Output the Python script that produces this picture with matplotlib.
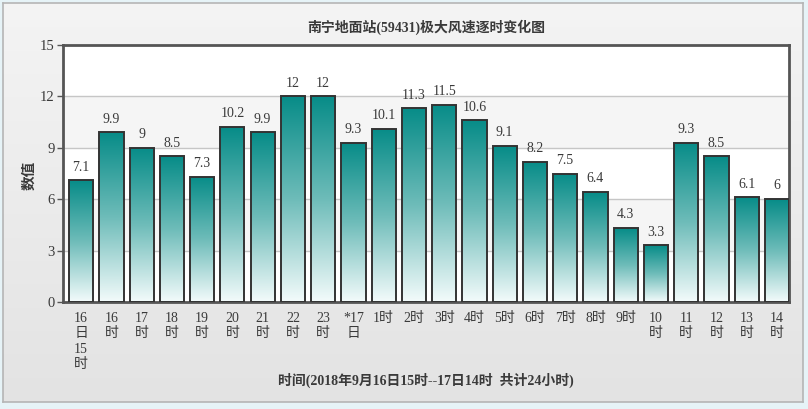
import numpy as np
import matplotlib
matplotlib.use('Agg')
import matplotlib.pyplot as plt
from matplotlib.colors import LinearSegmentedColormap

# data
hours = ['16\n日\n15\n时', '16\n时', '17\n时', '18\n时', '19\n时', '20\n时', '21\n时',
         '22\n时', '23\n时', '*17\n日', '1时', '2时', '3时', '4时', '5时', '6时',
         '7时', '8时', '9时', '10\n时', '11\n时', '12\n时', '13\n时', '14\n时']
wind = [7.1, 9.9, 9, 8.5, 7.3, 10.2, 9.9, 12, 12, 9.3, 10.1, 11.3, 11.5, 10.6,
        9.1, 8.2, 7.5, 6.4, 4.3, 3.3, 9.3, 8.5, 6.1, 6]
y_ticks = [0, 3, 6, 9, 12, 15]

title = '南宁地面站(59431)极大风速逐时变化图'
xlabel = '时间(2018年9月16日15时--17日14时  共计24小时)'
ylabel = '数值'

fonts = ['Liberation Serif', 'Noto Sans CJK SC', 'DejaVu Sans']
plt.rcParams['font.family'] = fonts
txt = '#3a3a3a'

fig = plt.figure(figsize=(8.08, 4.09), dpi=100)
fig.patch.set_facecolor('#e6f3f7')

# grey gradient panel behind the chart
bg = fig.add_axes([3 / 808, 7 / 409, 800 / 808, 399 / 409], zorder=-1)
panel = np.linspace(0, 1, 256).reshape(-1, 1)
bg.imshow(panel, aspect='auto', extent=[0, 1, 0, 1],
          cmap=LinearSegmentedColormap.from_list('pn', ['#f4f4f4', '#e3e3e3']))
bg.set_xticks([])
bg.set_yticks([])
for s in bg.spines.values():
    s.set_color('#b5b5b5')
    s.set_linewidth(1.2)

# plot area
ax = fig.add_axes([63 / 808, (409 - 302) / 409, 726 / 808, 257 / 409])
ax.set_facecolor('white')
x = np.arange(len(wind))

# alternating bands and grid lines
for lo, hi in zip(y_ticks[:-1], y_ticks[1:]):
    if lo in (3, 9):
        ax.axhspan(lo, hi, color='#f5f5f5', zorder=0, lw=0)
for t in y_ticks[1:-1]:
    ax.axhline(t, color='#c6c6c6', lw=1, zorder=1)

bars = ax.bar(x, wind, width=0.8, facecolor='none', edgecolor='#333333',
              linewidth=1.4, zorder=3)

bar_cmap = LinearSegmentedColormap.from_list('bar', ['#f3fbfb', '#6ebcb9', '#078c88'])
grad = np.linspace(0, 1, 256).reshape(-1, 1)[::-1]
for b, v in zip(bars, wind):
    im = ax.imshow(grad, aspect='auto', cmap=bar_cmap, vmin=0, vmax=1,
                   extent=[b.get_x(), b.get_x() + b.get_width(), 0, v], zorder=2)
    im.set_clip_path(b)
    ax.text(b.get_x() + b.get_width() / 2, v + 0.4, f'{v:g}', ha='center',
            va='bottom', fontsize=10, color=txt)

ax.set_xlim(-0.6, 23.4)
ax.set_ylim(0, 15)
ax.set_yticks(y_ticks)
ax.set_xticks(x)
ax.set_xticklabels(hours, linespacing=1.25, va='top')
ax.tick_params(axis='x', length=0, pad=7, labelsize=10, labelcolor=txt)
ax.tick_params(axis='y', length=4, width=1, color='#555555', pad=2,
               labelsize=10.5, labelcolor=txt)
for s in ax.spines.values():
    s.set_color('#555555')
    s.set_linewidth(2)

fig.text(0.5 * (63 + 789) / 808, 1 - 27 / 409, title, ha='center', va='center',
         fontsize=10, fontweight='bold', color=txt)
fig.text(0.5 * (63 + 789) / 808, 1 - 380 / 409, xlabel, ha='center', va='center',
         fontsize=10, fontweight='bold', color=txt)
fig.text(30 / 808, 1 - 175 / 409, ylabel, ha='center', va='center', rotation=90,
         fontsize=10.5, fontweight='bold', color=txt)

fig.savefig('out.png', dpi=100, facecolor=fig.get_facecolor())
